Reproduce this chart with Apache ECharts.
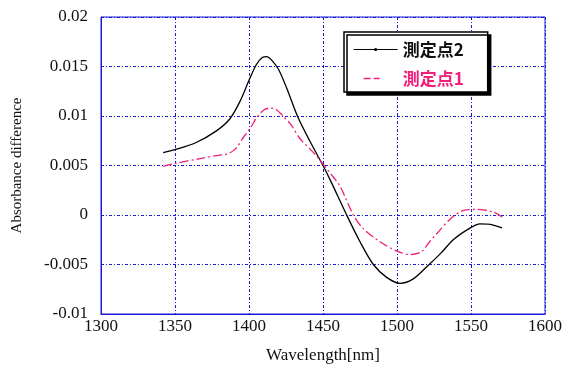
<!DOCTYPE html>
<html>
<head>
<meta charset="utf-8">
<script src="https://cdn.jsdelivr.net/npm/echarts@6/dist/echarts.min.js"></script>
<style>html,body{margin:0;padding:0;background:#fff}#c{width:581px;height:369px}</style>
</head>
<body>
<div id="c"></div>
<script>
const seriesNames = ['測定点2', '測定点1'];
const wl2 = [1342, 1350, 1364, 1378, 1387, 1394, 1400, 1405, 1409, 1412, 1415, 1420, 1425.5, 1433, 1441, 1450, 1455, 1466, 1475, 1484, 1493, 1502, 1511, 1521, 1530, 1538, 1549, 1556, 1563, 1571];
const val2 = [0.0063, 0.0066, 0.0073, 0.0085, 0.0097, 0.0115, 0.0136, 0.0152, 0.0159, 0.0160, 0.0157, 0.0147, 0.0128, 0.0099, 0.0075, 0.0050, 0.0035, 0.0000, -0.0027, -0.0050, -0.0063, -0.0069, -0.00645, -0.0051, -0.0038, -0.0025, -0.00135, -0.0009, -0.00095, -0.0013];
const wl1 = [1342, 1350, 1367, 1378, 1386, 1391, 1396, 1401, 1405, 1410, 1414, 1418, 1423, 1428, 1434.5, 1441, 1446, 1455, 1461.5, 1470.5, 1477, 1488.5, 1500, 1509, 1516.6, 1522, 1528, 1536, 1545, 1554, 1565, 1571];
const val1 = [0.0049, 0.0052, 0.0057, 0.0060, 0.0062, 0.0067, 0.0078, 0.0088, 0.0098, 0.0106, 0.0108, 0.0107, 0.0100, 0.0092, 0.0077, 0.0067, 0.0059, 0.0042, 0.0029, 0.0000, -0.00135, -0.0027, -0.00365, -0.0040, -0.0037, -0.0027, -0.0017, -0.0004, 0.00046, 0.00056, 0.0003, -0.0002];
const xTicks = [1300, 1350, 1400, 1450, 1500, 1550, 1600];
const yTickLabels = ['-0.01', '-0.005', '0', '0.005', '0.01', '0.015', '0.02'];

const chart = echarts.init(document.getElementById('c'), null, {renderer: 'canvas'});
const blue = '#1a1ad6';
const serif = '"Liberation Serif", "DejaVu Serif", serif';
const pink = '#f0207a';
chart.setOption({
  animation: false,
  backgroundColor: '#fff',
  grid: {left: 101, right: 36, top: 17, bottom: 48, show: true, borderColor: blue, borderWidth: 1},
  legend: {
    orient: 'vertical', left: 344, top: 32,
    padding: [9, 24, 5, 9], itemGap: 12, itemWidth: 44, itemHeight: 4,
    backgroundColor: '#fff', borderColor: '#000', borderWidth: 1.5,
    shadowColor: '#000', shadowOffsetX: 3, shadowOffsetY: 3, shadowBlur: 0,
    textStyle: {fontFamily: '"Noto Sans CJK JP"', fontSize: 17, fontWeight: 'bold', color: '#111'},
    data: [
      {name: seriesNames[0], textStyle: {color: '#111'}, lineStyle: {width: 1}},
      {name: seriesNames[1], textStyle: {color: pink}, itemStyle: {color: 'rgba(0,0,0,0)'},
       lineStyle: {width: 1.3, type: [0, 10, 7, 3, 6, 100]}}
    ]
  },
  xAxis: {
    type: 'value', min: 1300, max: 1600, interval: 50,
    name: 'Wavelength[nm]', nameLocation: 'middle', nameGap: 33,
    nameTextStyle: {fontFamily: serif, fontSize: 17, color: '#111'},
    axisLine: {show: true, onZero: false, lineStyle: {color: blue, width: 1}},
    axisTick: {show: false},
    axisLabel: {fontFamily: serif, fontSize: 17, color: '#111', margin: 4,
      formatter: v => String(xTicks[xTicks.indexOf(v)])},
    splitLine: {show: true, lineStyle: {color: blue, type: [3, 2, 1, 2], width: 1}}
  },
  yAxis: {
    type: 'value', min: -0.01, max: 0.02, interval: 0.005,
    name: 'Absorbance difference', nameLocation: 'middle', nameGap: 76, nameRotate: 90,
    nameTextStyle: {fontFamily: serif, fontSize: 15, color: '#111'},
    axisLine: {show: true, onZero: false, lineStyle: {color: blue, width: 1}},
    axisTick: {show: false},
    axisLabel: {fontFamily: serif, fontSize: 17, color: '#111', margin: 13,
      formatter: v => yTickLabels[Math.round((v + 0.01) / 0.005)]},
    splitLine: {show: true, lineStyle: {color: blue, type: [3, 2, 1, 2], width: 1}}
  },
  series: [
    {
      name: seriesNames[0], type: 'line', smooth: 0.3,
      data: wl2.map((x, i) => [x, val2[i]]),
      symbol: 'circle', symbolSize: 3, showSymbol: false,
      itemStyle: {color: '#000'},
      lineStyle: {color: '#000', width: 1.3}
    },
    {
      name: seriesNames[1], type: 'line', smooth: 0.3,
      data: wl1.map((x, i) => [x, val1[i]]),
      symbol: 'none',
      itemStyle: {color: pink},
      lineStyle: {color: pink, width: 1.3, type: [9, 3, 2, 3]}
    }
  ]
});
</script>
</body>
</html>
